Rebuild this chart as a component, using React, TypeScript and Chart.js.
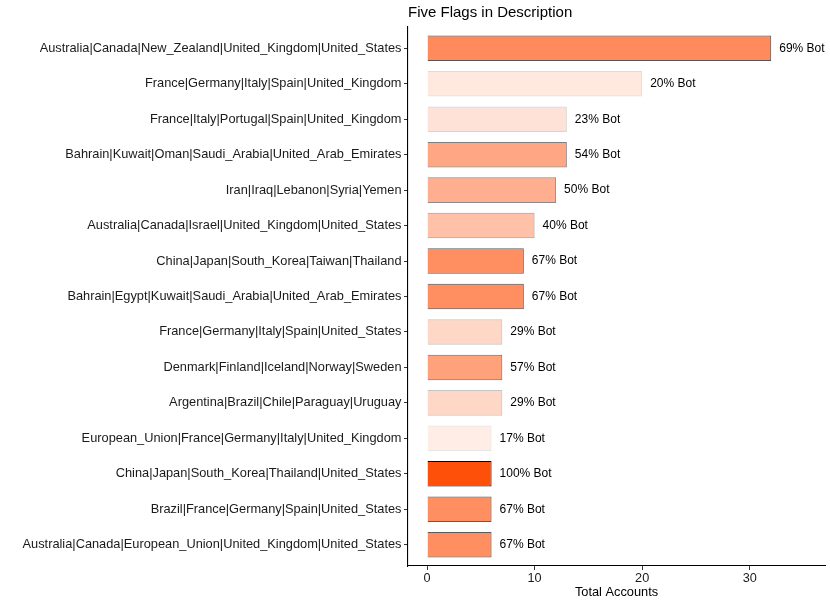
import React, { useEffect, useRef } from "react";
import { Chart, registerables } from "chart.js";

Chart.register(...registerables);

const categories = [
  "Australia|Canada|New_Zealand|United_Kingdom|United_States",
  "France|Germany|Italy|Spain|United_Kingdom",
  "France|Italy|Portugal|Spain|United_Kingdom",
  "Bahrain|Kuwait|Oman|Saudi_Arabia|United_Arab_Emirates",
  "Iran|Iraq|Lebanon|Syria|Yemen",
  "Australia|Canada|Israel|United_Kingdom|United_States",
  "China|Japan|South_Korea|Taiwan|Thailand",
  "Bahrain|Egypt|Kuwait|Saudi_Arabia|United_Arab_Emirates",
  "France|Germany|Italy|Spain|United_States",
  "Denmark|Finland|Iceland|Norway|Sweden",
  "Argentina|Brazil|Chile|Paraguay|Uruguay",
  "European_Union|France|Germany|Italy|United_Kingdom",
  "China|Japan|South_Korea|Thailand|United_States",
  "Brazil|France|Germany|Spain|United_States",
  "Australia|Canada|European_Union|United_Kingdom|United_States",
];
const totalAccounts = [32, 20, 13, 13, 12, 10, 9, 9, 7, 7, 7, 6, 6, 6, 6];
const botPercent = [69, 20, 23, 54, 50, 40, 67, 67, 29, 57, 29, 17, 100, 67, 67];
const xTicks = [0, 10, 20, 30];

const FONT = "'Liberation Sans', Arial, sans-serif";

function alphaFor(p: number) {
  return 0.1 + (0.9 * (p - 17)) / 83;
}

export default function App() {
  const ref = useRef<HTMLCanvasElement | null>(null);
  useEffect(() => {
    if (!ref.current) return;
    const fills = botPercent.map((p) => `rgba(255,80,10,${alphaFor(p).toFixed(3)})`);
    const borders = botPercent.map((p) => `rgba(0,0,0,${alphaFor(p).toFixed(3)})`);

    const labelPlugin = {
      id: "extras",
      afterDatasetsDraw(chart: any) {
        const ctx = chart.ctx;
        const meta = chart.getDatasetMeta(0);
        ctx.save();
        ctx.font = `12px ${FONT}`;
        ctx.fillStyle = "#000";
        ctx.textAlign = "left";
        ctx.textBaseline = "middle";
        meta.data.forEach((el: any, i: number) => {
          ctx.fillText(`${botPercent[i]}% Bot`, el.x + 8, el.y);
        });
        ctx.restore();
      },
      afterDraw(chart: any) {
        const ctx = chart.ctx;
        const ca = chart.chartArea;
        ctx.save();
        ctx.fillStyle = "#000";
        ctx.font = `15px ${FONT}`;
        ctx.textAlign = "left";
        ctx.textBaseline = "alphabetic";
        ctx.fillText("Five Flags in Description", ca.left, 17);
        ctx.font = `12.8px ${FONT}`;
        ctx.textAlign = "center";
        ctx.textBaseline = "middle";
        ctx.fillText("Total Accounts", (ca.left + ca.right) / 2, 592);
        ctx.restore();
      },
    };

    const chart = new Chart(ref.current, {
      type: "bar",
      data: {
        datasets: [
          {
            data: totalAccounts.map((v, i) => ({ x: v, y: i + 1 })),
            backgroundColor: fills,
            borderColor: borders,
            borderWidth: 1,
            barPercentage: 0.72,
            categoryPercentage: 1,
          },
        ],
      },
      options: {
        indexAxis: "y",
        responsive: false,
        animation: false,
        devicePixelRatio: 1,
        layout: { padding: { top: 27, right: 5, left: 0, bottom: 0 } },
        plugins: { legend: { display: false }, tooltip: { enabled: false }, title: { display: false } },
        scales: {
          x: {
            type: "linear",
            min: -1.77,
            max: 37.0,
            offset: false,
            afterBuildTicks: (scale: any) => {
              scale.ticks = xTicks.map((v) => ({ value: v }));
            },
            afterFit: (scale: any) => {
              scale.height = 40;
            },
            grid: { display: true, offset: false, drawOnChartArea: false, drawTicks: true, tickLength: 4, color: "#333333", lineWidth: 1 },
            border: { display: true, color: "#000000", width: 1.1 },
            ticks: { color: "#1a1a1a", font: { family: FONT, size: 12.7 }, padding: 1, maxRotation: 0 },
          },
          y: {
            type: "linear",
            reverse: true,
            min: 0.4,
            max: 15.6,
            offset: false,
            afterBuildTicks: (scale: any) => {
              scale.ticks = categories.map((_, i) => ({ value: i + 1 }));
            },
            afterFit: (scale: any) => {
              scale.width = 408;
            },
            grid: { display: true, offset: false, drawOnChartArea: false, drawTicks: true, tickLength: 4, color: "#333333", lineWidth: 1 },
            border: { display: true, color: "#000000", width: 1.1 },
            ticks: {
              color: "#1a1a1a",
              font: { family: FONT, size: 12.8 },
              padding: 2.5,
              autoSkip: false,
              callback: (v: any) => categories[Math.round(Number(v)) - 1] ?? "",
            },
          },
        },
      },
      plugins: [labelPlugin],
    } as any);
    return () => chart.destroy();
  }, []);

  return (
    <div style={{ position: "fixed", left: 0, top: 0, width: 830, height: 606, background: "#fff" }}>
      <canvas ref={ref} width={830} height={606} style={{ width: 830, height: 606, display: "block" }} />
    </div>
  );
}
